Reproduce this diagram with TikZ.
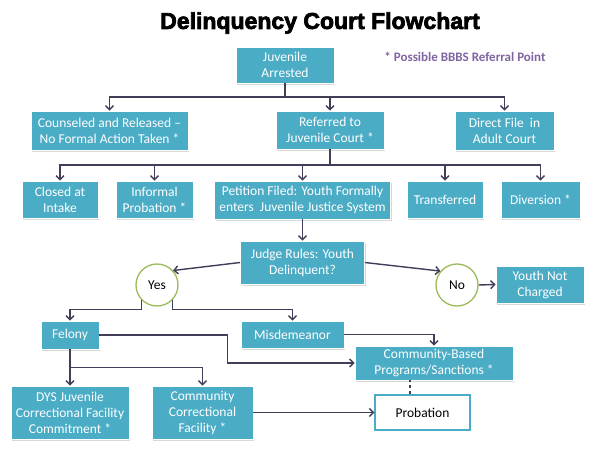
\documentclass[tikz,border=0pt]{standalone}
\usepackage{fontspec}
\setmainfont{Carlito}
\newfontfamily\titlefont[FakeBold=3]{Liberation Sans Bold}
\usetikzlibrary{arrows.meta,shadows}
\definecolor{boxteal}{HTML}{4BACC6}
\definecolor{linegray}{HTML}{403E58}
\definecolor{ringgreen}{HTML}{9BBB59}
\definecolor{notepurple}{HTML}{8064A2}

\begin{document}
\begin{tikzpicture}[
        x=1pt, y=-1pt,
        box/.style={rectangle, fill=boxteal, draw=white, line width=0.8pt,
            text=white, align=center, inner sep=2pt,
            font=\fontsize{13.5}{16}\selectfont,
            drop shadow={opacity=0.3, shadow xshift=1pt, shadow yshift=-1.5pt}},
        plainbox/.style={rectangle, fill=white, draw=boxteal, line width=1.3pt,
            align=center, font=\fontsize{13.5}{16}\selectfont},
        ring/.style={circle, draw=ringgreen, fill=white, line width=1.3pt,
            minimum size=42pt, inner sep=0pt, font=\fontsize{13.5}{16}\selectfont},
        link/.style={draw=linegray, line width=1.4pt,
            -{Straight Barb[length=4pt,width=8pt]}},
        bus/.style={draw=linegray, line width=1.4pt}]

        \fill[white] (0,0) rectangle (600,450);
        \useasboundingbox (0,0) rectangle (600,450);

        % TITLE
        \node (title) at (320,23) {\titlefont\fontsize{23}{26}\selectfont Delinquency Court Flowchart};
        \node[text=notepurple, font=\bfseries\fontsize{13}{15}\selectfont] (note) at (465,57) {* Possible BBBS Referral Point};

        % NODES
        % arrest
        \node[box, minimum width=98pt, minimum height=36pt] (arrest) at (285,65) {Juvenile\\Arrested};
        % first split
        \node[box, minimum width=157pt, minimum height=39pt] (couns) at (109.5,130.5) {Counseled and Released --\\No Formal Action Taken *};
        \node[box, minimum width=108pt, minimum height=38pt] (ref) at (330,130) {Referred to\\Juvenile Court *};
        \node[box, minimum width=99pt, minimum height=39pt] (direct) at (504.5,130.5) {Direct File\ \ in\\Adult Court};
        % court split
        \node[box, minimum width=76pt, minimum height=37pt] (closed) at (60,199.5) {Closed at\\Intake};
        \node[box, minimum width=77pt, minimum height=37pt] (inform) at (154.5,199.5) {Informal\\Probation *};
        \node[box, minimum width=176pt, minimum height=38pt] (pet) at (302.5,200) {Petition Filed: Youth Formally\\enters\ \ Juvenile Justice System};
        \node[box, minimum width=76pt, minimum height=37pt] (trans) at (445,199.5) {Transferred};
        \node[box, minimum width=79pt, minimum height=37pt] (divers) at (540.5,199.5) {Diversion *};
        % ruling
        \node[box, minimum width=124pt, minimum height=43pt] (judge) at (302.5,262.5) {Judge Rules: Youth\\Delinquent?};
        \node[ring] (yes) at (157,285) {Yes};
        \node[ring] (no) at (457,285) {No};
        \node[box, minimum width=88pt, minimum height=37pt] (ync) at (540,284.5) {Youth Not\\Charged};
        % offence
        \node[box, minimum width=58pt, minimum height=28pt] (fel) at (70,335) {Felony};
        \node[box, minimum width=103pt, minimum height=27pt] (misd) at (292.5,334.5) {Misdemeanor};
        \node[box, minimum width=158pt, minimum height=34pt] (cb) at (434,363) {Community-Based\\Programs/Sanctions *};
        % outcome
        \node[box, minimum width=118pt, minimum height=53pt] (dys) at (70,412.5) {DYS Juvenile\\Correctional Facility\\Commitment *};
        \node[box, minimum width=101pt, minimum height=53pt] (cc) at (202.5,412.5) {Community\\Correctional\\Facility *};
        \node[plainbox, minimum width=95pt, minimum height=35pt] (prob) at (422.5,412.5) {Probation};

        % ARROWS
        \coordinate (bus1) at (285,97);
        \coordinate (bus2) at (330,165);
        \draw[bus] (arrest.south) -- (bus1);
        \draw[link] (bus1) -| (couns.north);
        \draw[link] (bus1) -| (ref.north);
        \draw[link] (bus1) -| (direct.north);
        \draw[bus] (ref.south) -- (bus2);
        \draw[link] (bus2) -| (closed.north);
        \draw[link] (bus2) -| (inform.north);
        \draw[link] (bus2) -| (pet.north);
        \draw[link] (bus2) -| (trans.north);
        \draw[link] (bus2) -| (divers.north);
        \draw[link] (pet.south) -- (judge.north);
        \draw[link] (judge.west) -- (yes.42);
        \draw[link] (judge.east) -- (no.140);
        \draw[link] (no.east) -- (ync.west);
        \draw[link] (yes.225) -- ++(0,9) -| (fel.north);
        \draw[link] (yes.315) -- ++(0,9) -| (misd.north);
        \draw[link] (fel.east) -- ++(128,0) |- (cb.west);
        \draw[link] (misd.east) -| (cb.north);
        \draw[link] (fel.south) -- (dys.north);
        \draw[link] (fel.south) -- ++(0,18) -| (cc.north);
        \draw[link] (cc.east) -- (prob.west);
        \draw[bus, dashed] ([xshift=-12.5pt]prob.north) -- ([xshift=-12.5pt]prob.north |- cb.south);
\end{tikzpicture}
\end{document}
